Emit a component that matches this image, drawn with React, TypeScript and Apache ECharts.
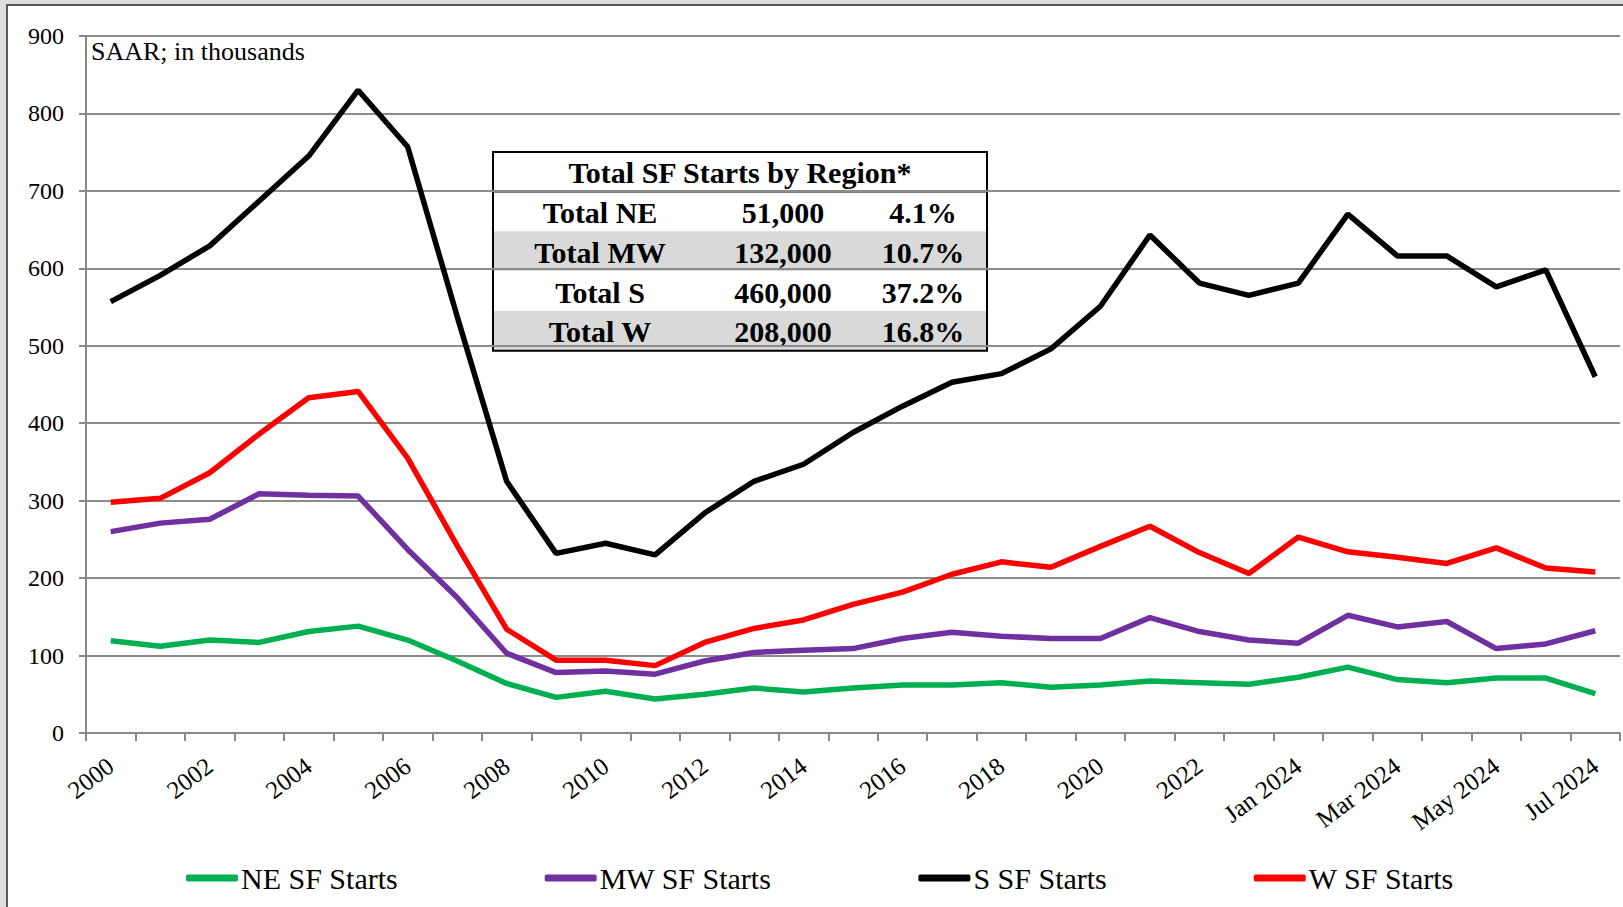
import React, { useEffect, useRef } from "react";
import * as echarts from "echarts";

const categories: string[] = [
  "2000", "2001", "2002", "2003", "2004", "2005", "2006", "2007", "2008", "2009",
  "2010", "2011", "2012", "2013", "2014", "2015", "2016", "2017", "2018", "2019",
  "2020", "2021", "2022", "2023", "Jan 2024", "Feb 2024", "Mar 2024", "Apr 2024",
  "May 2024", "Jun 2024", "Jul 2024",
];

const neStarts: number[] = [119, 112, 120, 117, 131, 138, 120, 93, 64, 46, 54, 44, 50, 58, 53, 58, 62, 62, 65, 59, 62, 67, 65, 63, 72, 85, 69, 65, 71, 71, 51];
const mwStarts: number[] = [260, 271, 276, 309, 307, 306, 237, 175, 103, 78, 80, 76, 93, 104, 107, 109, 122, 130, 125, 122, 122, 149, 131, 120, 116, 152, 137, 144, 109, 115, 132];
const sStarts: number[] = [557, 591, 629, 687, 745, 830, 757, 538, 325, 232, 245, 230, 284, 325, 347, 388, 422, 453, 464, 496, 551, 643, 581, 565, 581, 670, 616, 616, 576, 598, 460];
const wStarts: number[] = [298, 303, 336, 386, 433, 441, 355, 242, 134, 94, 94, 87, 117, 135, 146, 166, 182, 205, 221, 214, 241, 267, 233, 206, 253, 234, 227, 219, 239, 213, 208];

const seriesNames: string[] = ["NE SF Starts", "MW SF Starts", "S SF Starts", "W SF Starts"];
const seriesColors: string[] = ["#00b050", "#7030a0", "#000000", "#ff0000"];

const tableTitle = "Total SF Starts by Region*";
const tableRegions: string[] = ["Total NE", "Total MW", "Total S", "Total W"];
const tableTotals: string[] = ["51,000", "132,000", "460,000", "208,000"];
const tableShares: string[] = ["4.1%", "10.7%", "37.2%", "16.8%"];

const unitNote = "SAAR; in thousands";

const FONT = "'Liberation Serif', 'Times New Roman', serif";

export default function App() {
  const ref = useRef<HTMLDivElement>(null);

  useEffect(() => {
    if (!ref.current) return;
    const chart = echarts.init(ref.current, undefined, { renderer: "svg" });

    const dataSets = [neStarts, mwStarts, sStarts, wStarts];

    const tX = 493, tY = 152, tW = 494, headH = 39.5, rowH = 39.8;
    const colX = [600, 783, 923];
    const tableChildren: any[] = [];
    tableChildren.push({
      type: "rect",
      shape: { x: tX, y: tY, width: tW, height: headH + rowH * tableRegions.length },
      style: { fill: "#ffffff" },
    });
    tableRegions.forEach((_, i) => {
      if (i % 2 === 1) {
        tableChildren.push({
          type: "rect",
          shape: { x: tX, y: tY + headH + rowH * i, width: tW, height: rowH },
          style: { fill: "#d9d9d9" },
        });
      }
    });
    tableChildren.push({
      type: "text",
      x: tX + tW / 2,
      y: tY + headH / 2 + 1,
      style: {
        text: tableTitle,
        font: `bold 30px ${FONT}`,
        fill: "#000",
        align: "center",
        verticalAlign: "middle",
      },
    });
    tableRegions.forEach((r, i) => {
      const cy = tY + headH + rowH * i + rowH / 2 + 1;
      [r, tableTotals[i], tableShares[i]].forEach((t, j) => {
        tableChildren.push({
          type: "text",
          x: colX[j],
          y: cy,
          style: {
            text: t,
            font: `bold 30px ${FONT}`,
            fill: "#000",
            align: "center",
            verticalAlign: "middle",
          },
        });
      });
    });
    tableChildren.push({
      type: "line",
      shape: { x1: tX, y1: tY + headH, x2: tX + tW, y2: tY + headH },
      style: { stroke: "#000", lineWidth: 2 },
    });
    tableChildren.push({
      type: "rect",
      shape: { x: tX, y: tY, width: tW, height: headH + rowH * tableRegions.length },
      style: { fill: "none", stroke: "#000", lineWidth: 2 },
    });

    chart.setOption({
      animation: false,
      backgroundColor: "transparent",
      textStyle: { fontFamily: FONT },
      grid: { left: 86, right: 3, top: 36, bottom: 174, containLabel: false },
      legend: {
        data: seriesNames,
        left: 181,
        top: 858,
        itemGap: 147,
        itemWidth: 52,
        itemHeight: 7,
        icon: "roundRect",
        textStyle: { fontSize: 30, color: "#000", fontFamily: FONT, padding: [0, 0, 0, -2] },
      },
      xAxis: {
        type: "category",
        data: categories,
        boundaryGap: true,
        axisLine: { lineStyle: { color: "#888", width: 2 } },
        axisTick: { show: true, interval: 0, length: 8, lineStyle: { color: "#888", width: 2 } },
        axisLabel: {
          interval: 1,
          rotate: 37,
          margin: 30,
          fontSize: 25,
          color: "#000",
          fontFamily: FONT,
        },
      },
      yAxis: {
        type: "value",
        min: 0,
        max: 900,
        interval: 100,
        axisLine: { show: true, lineStyle: { color: "#888", width: 2 } },
        axisTick: { show: true, length: 7, lineStyle: { color: "#888", width: 2 } },
        axisLabel: { fontSize: 24, color: "#000", margin: 22, fontFamily: FONT },
        splitLine: { lineStyle: { color: "#8c8c8c", width: 2 } },
      },
      series: seriesNames.map((name, i) => ({
        name,
        type: "line",
        data: dataSets[i],
        symbol: "none",
        color: seriesColors[i],
        lineStyle: { color: seriesColors[i], width: 5.5 },
        z: 3,
      })),
      graphic: [
        {
          type: "text",
          left: 91,
          top: 38,
          z: 50,
          style: { text: unitNote, font: `26px ${FONT}`, fill: "#000" },
        },
        { type: "group", z: 100, children: tableChildren },
      ],
    });

    return () => chart.dispose();
  }, []);

  return (
    <div style={{ position: "fixed", left: 0, top: 0, width: 1623, height: 907, background: "#dedede", overflow: "hidden" }}>
      <div
        style={{
          position: "absolute",
          left: 6,
          top: 4,
          width: 1630,
          height: 920,
          background: "#ffffff",
          borderLeft: "2px solid #5a5a5a",
          borderTop: "2px solid #5a5a5a",
        }}
      />
      <div ref={ref} style={{ position: "absolute", left: 0, top: 0, width: 1623, height: 907 }} />
    </div>
  );
}
